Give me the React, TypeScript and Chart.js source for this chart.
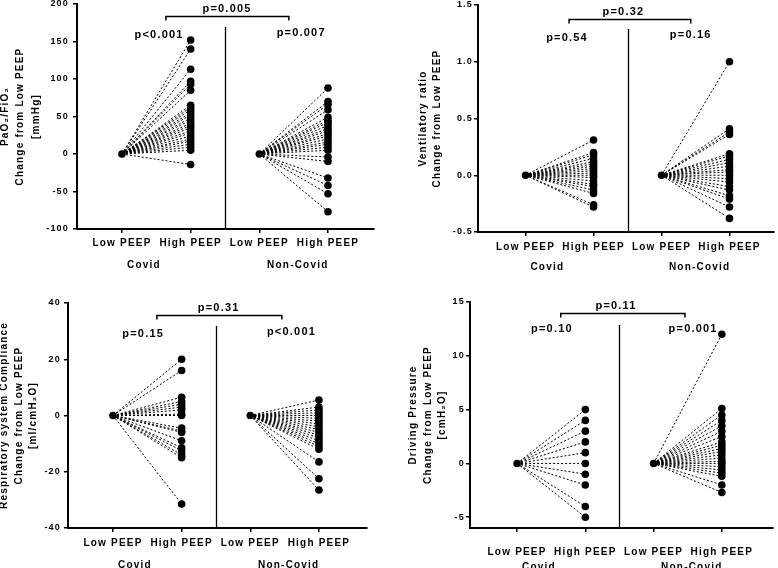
import React, { useEffect, useRef } from 'react';
import { Chart, registerables } from 'chart.js';

Chart.register(...registerables);
Chart.defaults.font.family = '"Liberation Sans", Arial, sans-serif';

// ---- data ----
const X_LABELS = ['Low PEEP', 'High PEEP', 'Low PEEP', 'High PEEP'];
const GROUP_LABELS = ['Covid', 'Non-Covid'];

const PAO2_COVID = [152, 140, 113, 97, 93, 85, 65, 62, 59, 55, 52, 48, 45, 41, 38, 35, 31, 28, 24, 20, 17, 13, 9, 5, -14];
const PAO2_NONCOVID = [88, 70, 66, 59, 49, 45, 42, 38, 34, 31, 27, 24, 20, 16, 13, 9, 5, -4, -10, -32, -42, -53, -77];
const PAO2_TICKS = [-100, -50, 0, 50, 100, 150, 200];
const PAO2_P = ['p=0.005', 'p<0.001', 'p=0.007'];

const VR_COVID = [0.31, 0.2, 0.18, 0.15, 0.12, 0.1, 0.08, 0.06, 0.04, 0.02, 0.0, -0.02, -0.05, -0.08, -0.1, -0.13, -0.16, -0.26, -0.28];
const VR_NONCOVID = [1.0, 0.41, 0.38, 0.36, 0.19, 0.17, 0.14, 0.11, 0.08, 0.05, 0.03, 0.0, -0.03, -0.06, -0.1, -0.13, -0.18, -0.21, -0.28, -0.38];
const VR_TICKS = [-0.5, 0, 0.5, 1.0, 1.5];
const VR_P = ['p=0.32', 'p=0.54', 'p=0.16'];

const CRS_COVID = [20, 16, 6.5, 5, 4, 3, 2, 0.5, 0, -4.5, -5.5, -6, -9, -11.5, -12.5, -14, -15, -31.5];
const CRS_NONCOVID = [5.5, 3, 2, 1, 0, -1, -2, -3, -4, -5, -6, -7, -8, -9, -10, -11, -12, -16.5, -22.5, -26.5];
const CRS_TICKS = [-40, -20, 0, 20, 40];
const CRS_P = ['p=0.31', 'p=0.15', 'p<0.001'];

const DP_COVID = [5, 4, 3, 2, 1, 0, -1, -2, -4, -5];
const DP_NONCOVID = [12, 5.1, 4.5, 4, 3.5, 3, 2.5, 2, 1.7, 1.4, 1.1, 0.8, 0.5, 0.2, 0, -0.3, -0.6, -0.9, -1.2, -2, -2.7];
const DP_TICKS = [-5, 0, 5, 10, 15];
const DP_P = ['p=0.11', 'p=0.10', 'p=0.001'];

// ---- layout / style per panel ----
type Cfg = {
  left: number; top: number; w: number; h: number;
  areaLeft: number; areaTop: number; areaBottom: number; padR: number;
  xMin: number; xMax: number; yMin: number; yMax: number; yTicks: number[];
  fmt: (v: number) => string;
  title: string[]; titlePad: number; titleLH: number; yTickPad: number; xTickPad: number;
  covid: number[]; nonCovid: number[]; p: string[];
  bracket: [number, number]; bracketDy: number; pTopX: number; divTop: number;
  pLeftX: number; pLeftDy: number; pRightX: number; pRightDy: number;
  groupX: [number, number]; groupDy: number;
};

const PANELS: Cfg[] = [
  {
    left: 0, top: 0, w: 390, h: 290, areaLeft: 77, areaTop: 3, areaBottom: 229, padR: 16,
    xMin: 0.345, xMax: 4.67, yMin: -100, yMax: 200, yTicks: PAO2_TICKS, fmt: (v) => String(v),
    title: ['PaO\u2082/FiO\u2082', 'Change from Low PEEP', '[mmHg]'], titlePad: -3, titleLH: 1.55, yTickPad: 4, xTickPad: 4,
    covid: PAO2_COVID, nonCovid: PAO2_NONCOVID, p: PAO2_P,
    bracket: [1.64, 3.43], bracketDy: 12, pTopX: 2.53, divTop: 23,
    pLeftX: 1.54, pLeftDy: 31, pRightX: 3.61, pRightDy: 29, groupX: [1.32, 3.56], groupDy: 36,
  },
  {
    left: 390, top: 0, w: 388, h: 290, areaLeft: 88, areaTop: 5, areaBottom: 232, padR: 1,
    xMin: 0.30, xMax: 4.655, yMin: -0.5, yMax: 1.5, yTicks: VR_TICKS, fmt: (v) => v.toFixed(1),
    title: ['Ventilatory ratio', 'Change from Low PEEP'], titlePad: 26, titleLH: 1.4, yTickPad: 1, xTickPad: 5,
    covid: VR_COVID, nonCovid: VR_NONCOVID, p: VR_P,
    bracket: [1.64, 3.43], bracketDy: 14, pTopX: 2.44, divTop: 24,
    pLeftX: 1.61, pLeftDy: 33, pRightX: 3.43, pRightDy: 30, groupX: [1.32, 3.56], groupDy: 35,
  },
  {
    left: 0, top: 290, w: 390, h: 278, areaLeft: 68, areaTop: 13, areaBottom: 238, padR: 23,
    xMin: 0.345, xMax: 4.70, yMin: -40, yMax: 40, yTicks: CRS_TICKS, fmt: (v) => String(v),
    title: ['Respiratory system Compliance', 'Change from Low PEEP', '[ml/cmH\u2082O]'], titlePad: -3, titleLH: 1.45, yTickPad: 3, xTickPad: 5,
    covid: CRS_COVID, nonCovid: CRS_NONCOVID, p: CRS_P,
    bracket: [1.64, 3.46], bracketDy: 12, pTopX: 2.54, divTop: 23,
    pLeftX: 1.44, pLeftDy: 31, pRightX: 3.60, pRightDy: 29, groupX: [1.32, 3.56], groupDy: 37,
  },
  {
    left: 390, top: 290, w: 388, h: 278, areaLeft: 80, areaTop: 12, areaBottom: 238, padR: 5,
    xMin: 0.31, xMax: 4.75, yMin: -6, yMax: 15, yTicks: DP_TICKS, fmt: (v) => String(v),
    title: ['Driving Pressure', 'Change from Low PEEP', '[cmH\u2082O]'], titlePad: 16, titleLH: 1.45, yTickPad: 1, xTickPad: 14,
    covid: DP_COVID, nonCovid: DP_NONCOVID, p: DP_P,
    bracket: [1.64, 3.46], bracketDy: 11, pTopX: 2.45, divTop: 23,
    pLeftX: 1.51, pLeftDy: 27, pRightX: 3.58, pRightDy: 27, groupX: [1.32, 3.56], groupDy: 39,
  },
];

const FONT = '"Liberation Sans", Arial, sans-serif';

function Panel({ cfg }: { cfg: Cfg }) {
  const ref = useRef<HTMLCanvasElement>(null);
  useEffect(() => {
    if (!ref.current) return;
    const lineStyle = {
      showLine: true, borderColor: '#000', borderWidth: 1, borderDash: [2, 2],
      pointRadius: 0, order: 1, clip: false as any,
    };
    const datasets: any[] = [];
    const pts: { x: number; y: number }[] = [{ x: 1, y: 0 }, { x: 3, y: 0 }];
    cfg.covid.forEach((v) => {
      datasets.push({ ...lineStyle, data: [{ x: 1, y: 0 }, { x: 2, y: v }] });
      pts.push({ x: 2, y: v });
    });
    cfg.nonCovid.forEach((v) => {
      datasets.push({ ...lineStyle, data: [{ x: 3, y: 0 }, { x: 4, y: v }] });
      pts.push({ x: 4, y: v });
    });
    datasets.push({
      data: pts, showLine: false, pointRadius: 3.8, pointBackgroundColor: '#000',
      pointBorderColor: '#000', pointBorderWidth: 0, order: 0, clip: false,
    });

    const annot = {
      id: 'annot',
      beforeDraw(chart: any) {
        chart.ctx.letterSpacing = '1.2px';
      },
      afterDraw(chart: any) {
        const { ctx, chartArea: a, scales } = chart;
        const x = scales.x;
        ctx.save();
        ctx.letterSpacing = '1.2px';
        ctx.strokeStyle = '#000';
        ctx.fillStyle = '#000';
        // divider
        const dx = Math.round(x.getPixelForValue(2.5)) + 0.5;
        ctx.lineWidth = 1.3;
        ctx.beginPath();
        ctx.moveTo(dx, a.top + cfg.divTop);
        ctx.lineTo(dx, a.bottom);
        ctx.stroke();
        // bracket
        const by = Math.round(a.top + cfg.bracketDy) + 0.5;
        const bx1 = x.getPixelForValue(cfg.bracket[0]);
        const bx2 = x.getPixelForValue(cfg.bracket[1]);
        ctx.lineWidth = 1.5;
        ctx.beginPath();
        ctx.moveTo(bx1, by + 4);
        ctx.lineTo(bx1, by);
        ctx.lineTo(bx2, by);
        ctx.lineTo(bx2, by + 4);
        ctx.stroke();
        // p values
        ctx.font = `bold 11px ${FONT}`;
        ctx.textAlign = 'center';
        ctx.textBaseline = 'middle';
        ctx.fillText(cfg.p[0], x.getPixelForValue(cfg.pTopX), by - 8);
        ctx.fillText(cfg.p[1], x.getPixelForValue(cfg.pLeftX), a.top + cfg.pLeftDy);
        ctx.fillText(cfg.p[2], x.getPixelForValue(cfg.pRightX), a.top + cfg.pRightDy);
        // group labels
        ctx.font = `bold 10px ${FONT}`;
        ctx.fillText(GROUP_LABELS[0], x.getPixelForValue(cfg.groupX[0]), a.bottom + cfg.groupDy);
        ctx.fillText(GROUP_LABELS[1], x.getPixelForValue(cfg.groupX[1]), a.bottom + cfg.groupDy);
        ctx.restore();
      },
    };

    const chart = new Chart(ref.current, {
      type: 'scatter',
      data: { datasets },
      plugins: [annot],
      options: {
        responsive: false,
        animation: false,
        events: [],
        layout: { padding: { left: 0, top: cfg.areaTop, right: cfg.padR, bottom: 0 } },
        plugins: { legend: { display: false }, tooltip: { enabled: false } },
        scales: {
          x: {
            type: 'linear', min: cfg.xMin, max: cfg.xMax,
            afterBuildTicks: (s: any) => { s.ticks = [1, 2, 3, 4].map((v) => ({ value: v })); },
            afterFit: (s: any) => { s.height = cfg.h - cfg.areaBottom; s.paddingLeft = 0; s.paddingRight = 0; },
            ticks: {
              autoSkip: false, maxRotation: 0, color: '#000', padding: cfg.xTickPad,
              font: { size: 10, weight: 'bold' },
              callback: (v: any) => X_LABELS[Math.round(Number(v)) - 1] ?? '',
            },
            grid: { display: true, drawOnChartArea: false, drawTicks: true, tickLength: 4, color: '#000', lineWidth: 1.5 },
            border: { display: true, color: '#000', width: 2 },
          },
          y: {
            type: 'linear', min: cfg.yMin, max: cfg.yMax,
            afterBuildTicks: (s: any) => { s.ticks = cfg.yTicks.map((v) => ({ value: v })); },
            afterFit: (s: any) => { s.width = cfg.areaLeft; s.paddingTop = 0; s.paddingBottom = 0; },
            ticks: {
              color: '#000', padding: cfg.yTickPad, font: { size: 9, weight: 'bold' },
              callback: (v: any) => cfg.fmt(Number(v)),
            },
            grid: { display: true, drawOnChartArea: false, drawTicks: true, tickLength: 4, color: '#000', lineWidth: 1.5 },
            border: { display: true, color: '#000', width: 2 },
            title: {
              display: true, text: cfg.title, color: '#000',
              font: { size: 10, weight: 'bold', lineHeight: cfg.titleLH },
              padding: { top: cfg.titlePad, bottom: 0 },
            },
          },
        },
      } as any,
    });
    return () => chart.destroy();
  }, [cfg]);
  return (
    <canvas
      ref={ref}
      width={cfg.w}
      height={cfg.h}
      style={{ position: 'absolute', left: cfg.left, top: cfg.top, width: cfg.w, height: cfg.h }}
    />
  );
}

export default function App() {
  return (
    <div style={{ position: 'fixed', left: 0, top: 0, width: 778, height: 568, background: '#fff', overflow: 'hidden' }}>
      {PANELS.map((c, i) => <Panel key={i} cfg={c} />)}
    </div>
  );
}
